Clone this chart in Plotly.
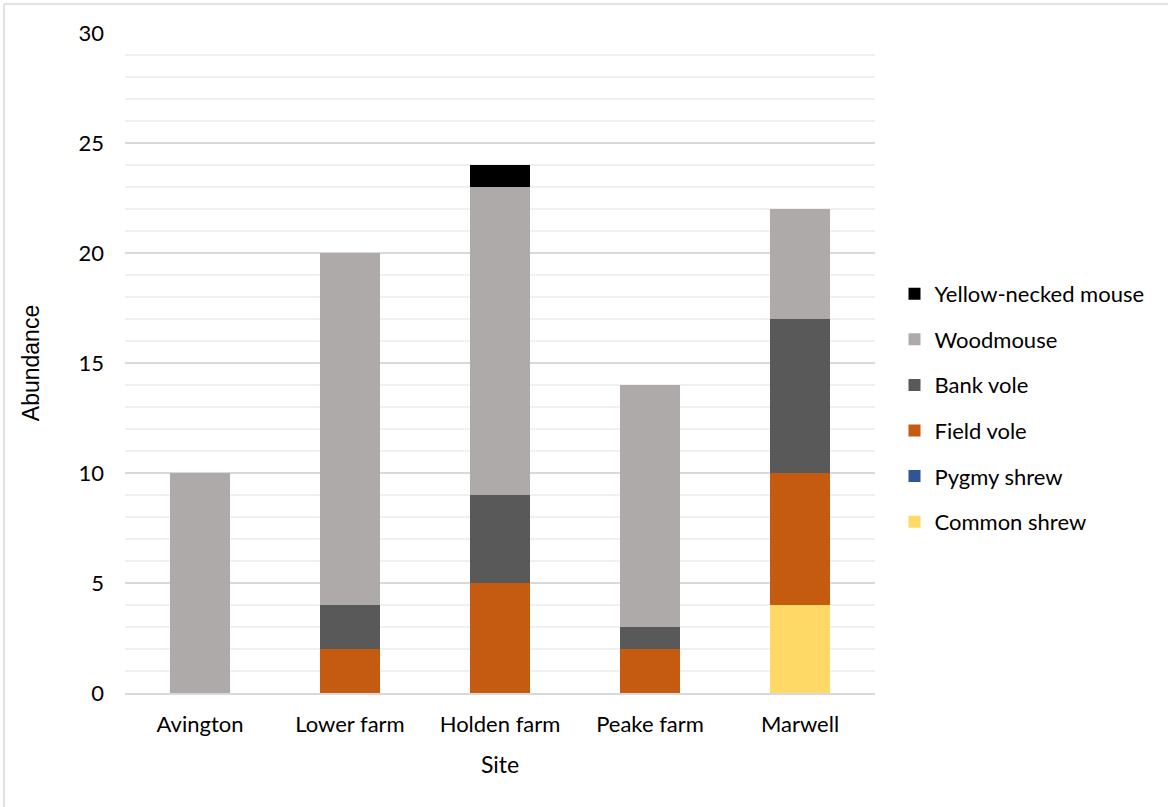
import plotly.graph_objects as go

sites = ["Avington", "Lower farm", "Holden farm", "Peake farm", "Marwell"]

common_shrew = [0, 0, 0, 0, 4]
pygmy_shrew = [0, 0, 0, 0, 0]
field_vole = [0, 2, 5, 2, 6]
bank_vole = [0, 2, 4, 1, 7]
woodmouse = [10, 16, 14, 11, 5]
yellow_necked_mouse = [0, 0, 1, 0, 0]

series = [
    ("Common shrew", common_shrew, "#FFD966"),
    ("Pygmy shrew", pygmy_shrew, "#2F5597"),
    ("Field vole", field_vole, "#C55A11"),
    ("Bank vole", bank_vole, "#595959"),
    ("Woodmouse", woodmouse, "#AEAAAA"),
    ("Yellow-necked mouse", yellow_necked_mouse, "#000000"),
]

fig = go.Figure()
for i, (name, vals, color) in enumerate(series):
    fig.add_trace(go.Bar(
        x=sites, y=vals, name=name, legendgroup=name,
        legendrank=1000 - i,
        marker=dict(color=color, line=dict(width=0)),
    ))

txt = "Lato, Open Sans, sans-serif"
fig.update_layout(
    barmode="stack",
    bargap=0.6,
    width=1168, height=807,
    margin=dict(l=125, r=293, t=33, b=114),
    paper_bgcolor="white", plot_bgcolor="white",
    font=dict(family=txt, size=22, color="#000000"),
    showlegend=True,
    legend=dict(
        traceorder="grouped", x=1.026, y=0.432, xanchor="left", yanchor="middle",
        font=dict(family=txt, size=22), tracegroupgap=14,
        itemwidth=30,
    ),
    xaxis=dict(
        title=dict(text="Site", font=dict(family=txt, size=23), standoff=21),
        showgrid=False, showline=True, linecolor="#d9d9d9", linewidth=1.5,
        ticks="", ticklabelstandoff=11, tickfont=dict(size=22),
    ),
    yaxis=dict(
        title=dict(text="Abundance", font=dict(family="Liberation Sans, Arial", size=23), standoff=32),
        range=[0, 30], dtick=5, tick0=0,
        showgrid=True, gridcolor="#d9d9d9", gridwidth=1.5,
        minor=dict(dtick=1, showgrid=True, gridcolor="#f0f0f0", gridwidth=1.5),
        zeroline=False, showline=False, ticks="", ticklabelstandoff=20,
        tickfont=dict(size=22),
    ),
    shapes=[
        dict(type="line", xref="paper", yref="paper", x0=-0.1613, x1=1.6, y0=1.0439, y1=1.0439,
             line=dict(color="#d9d9d9", width=1.5)),
        dict(type="line", xref="paper", yref="paper", x0=-0.1613, x1=-0.1613, y0=1.0439, y1=-0.3,
             line=dict(color="#d9d9d9", width=1.5)),
    ],
)

fig.write_html("out.html")
